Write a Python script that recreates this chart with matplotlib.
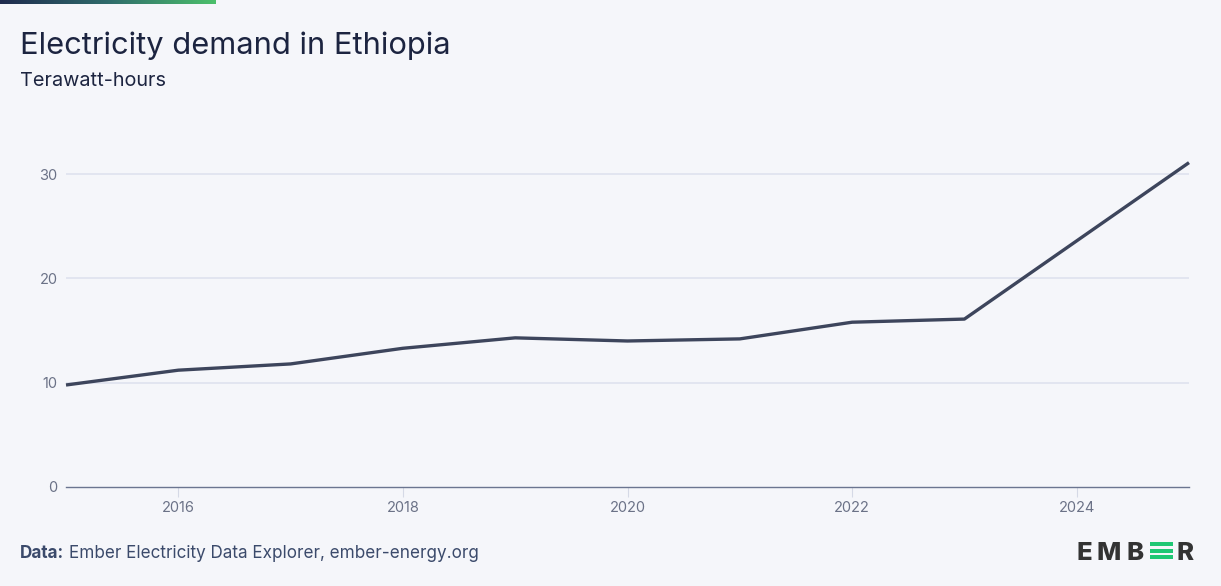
import matplotlib
matplotlib.use("Agg")
import matplotlib.pyplot as plt
import numpy as np
from matplotlib.patches import Rectangle
from matplotlib.colors import LinearSegmentedColormap

years = [2015, 2016, 2017, 2018, 2019, 2020, 2021, 2022, 2023, 2024, 2025]
demand_twh = [9.78, 11.2, 11.8, 13.3, 14.3, 14.0, 14.2, 15.8, 16.1, 23.6, 31.1]
x_ticks = [2016, 2018, 2020, 2022, 2024]
y_ticks = [0, 10, 20, 30]

title = "Electricity demand in Ethiopia"
subtitle = "Terawatt-hours"

W, H = 1221, 586
BG = "#f5f6fa"
FONT = "Inter"

fig = plt.figure(figsize=(W / 100, H / 100), dpi=100, facecolor=BG)

left, right, bottom_px, top_px = 66, 1189, 487, 160
ax = fig.add_axes([left / W, 1 - bottom_px / H, (right - left) / W, (bottom_px - top_px) / H])
ax.set_facecolor(BG)
ax.plot(years, demand_twh, color="#3d455c", lw=2.4, solid_capstyle="butt", zorder=3, clip_on=False)
ax.set_xlim(2015, 2025)
ax.set_ylim(0, (bottom_px - top_px) / 10.43)
ax.set_yticks(y_ticks)
ax.set_xticks(x_ticks)
ax.set_yticklabels([str(v) for v in y_ticks], fontsize=10.5, color="#6b7287", family=FONT)
ax.set_xticklabels([str(v) for v in x_ticks], fontsize=10.5, color="#6b7287", family=FONT)
ax.tick_params(axis="y", length=0, pad=6)
ax.tick_params(axis="x", length=7, width=0.8, color="#d5d9e6", pad=3)
for s in ["top", "right", "left"]:
    ax.spines[s].set_visible(False)
ax.spines["bottom"].set_color("#6b7590")
ax.spines["bottom"].set_linewidth(1.0)
ax.grid(axis="y", color="#dfe2ee", lw=1.2)
ax.set_axisbelow(True)
ax.yaxis.get_gridlines()[0].set_visible(False)

# gradient bar at top
grad = np.linspace(0, 1, 256).reshape(1, -1)
cmap = LinearSegmentedColormap.from_list("g", ["#1f2b4e", "#2f6b6b", "#4cc06c"])
gax = fig.add_axes([0, 1 - 4 / H, 215 / W, 4 / H])
gax.imshow(grad, aspect="auto", cmap=cmap)
gax.axis("off")

fig.text(20 / W, 1 - 46 / H, title, fontsize=22.2, color="#1c2440", family=FONT,
         va="center", ha="left")
fig.text(20 / W, 1 - 81 / H, subtitle, fontsize=14.3, color="#1c2440", family=FONT,
         va="center", ha="left")

# footer
t1 = fig.text(20 / W, 1 - 553 / H, "Data:", fontsize=12.3, color="#3b4a6b", family=FONT,
              fontweight="bold", va="center", ha="left")
fig.canvas.draw()
bb = t1.get_window_extent()
fig.text((bb.x1 + 5) / W, 1 - 553 / H, "Ember Electricity Data Explorer, ember-energy.org",
         fontsize=12.3, color="#3b4a6b", family=FONT, va="center", ha="left")

# EMBER logo
logo_base = H - 559.5
for ch, xp in [("E", 1076), ("M", 1096), ("B", 1126), ("R", 1177)]:
    fig.text(xp / W, logo_base / H, ch, fontsize=18.5, color="#333333", family=FONT,
             fontweight="heavy", va="baseline", ha="left")
for yt in [542, 548.5, 555]:
    fig.patches.append(Rectangle((1150 / W, (H - yt - 4) / H), 23 / W, 4 / H,
                                 transform=fig.transFigure, color="#1fc774", lw=0))

fig.savefig("out.png", dpi=100, facecolor=BG)
